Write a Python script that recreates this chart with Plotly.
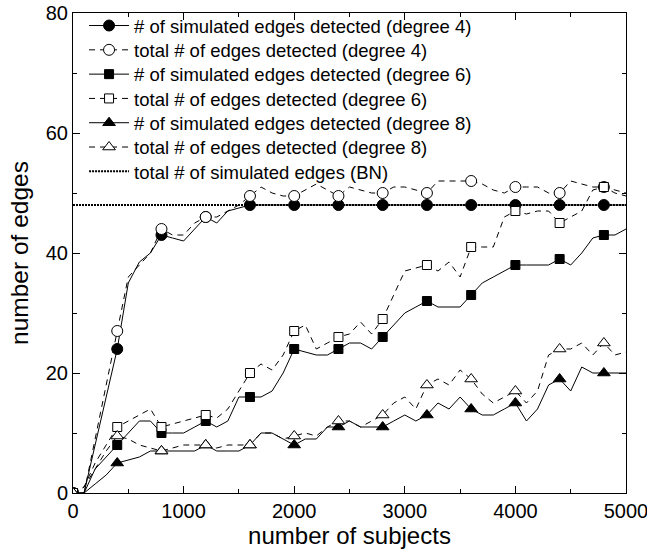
import plotly.graph_objects as go

subjects = list(range(0, 5001, 100))

sim_deg4 = [0, 0, 8, 16, 24, 35, 38.5, 40, 43, 42.5, 42, 44, 46, 45, 47, 47.5, 48,
            48, 48, 48, 48, 48, 48, 48, 48, 48, 48, 48, 48, 48, 48, 48, 48, 48, 48,
            48, 48, 48, 48, 48, 48, 48, 48, 48, 48, 48, 48, 48, 48, 48, 48]
tot_deg4 = [0, 0, 9, 18, 27, 36, 38, 40, 44, 43, 43, 45, 46, 46, 47, 48, 49.5,
            51, 50, 49.5, 49.5, 50.5, 51.5, 50.5, 49.5, 51, 50.5, 50, 50, 51, 51,
            50.5, 50, 52, 52, 52, 52, 51.5, 50.5, 50, 51, 51, 51, 50, 50, 52, 51.5,
            51, 51, 50.5, 50]
sim_deg6 = [0, 0, 4, 6, 8, 10, 12, 12, 10, 10, 10, 11, 12, 11, 12, 16, 16,
            16, 17, 20, 24, 23.5, 23, 23, 24, 25, 25, 24, 26, 28, 30, 31, 32, 31,
            31, 31, 33, 35, 36, 37, 38, 38, 38, 38, 39, 38, 40, 42.5, 43, 43, 44]
tot_deg6 = [0, 1, 5, 8, 11, 12, 13, 14, 11, 11.5, 12, 12.5, 13, 12.5, 14, 17, 20,
            21.5, 20.5, 23, 27, 28, 24, 25, 26, 26.5, 28.5, 26.5, 29, 33, 37, 37.5,
            38, 37, 38.5, 36, 41, 41, 41, 46, 47, 46.5, 47, 47, 45, 46, 47, 50.5,
            51, 50, 49.5]
sim_deg8 = [0, 0, 1.5, 3, 5, 5.5, 6, 7, 7, 7, 7, 7, 8, 7, 7, 7, 8, 10, 10, 9, 8,
            9, 9, 11, 11, 12, 11, 11, 11, 12, 13, 12, 13, 15, 14, 16, 14, 13, 13,
            14, 15, 12, 14, 18, 19, 17, 21, 20, 20, 20, 20]
tot_deg8 = [0, 1, 4, 7, 9.5, 9, 8, 7.5, 7, 7.5, 8, 8, 8, 7.5, 8, 8, 8, 10, 10, 9,
            9.5, 10, 9.5, 11, 12, 12, 11, 12, 13, 15, 16, 14, 18, 19, 18, 20.5, 19,
            16.5, 15, 16, 17, 15, 17, 23, 24, 24, 25, 23, 25, 23, 23.5]
bn_total = [48] * len(subjects)

names = ["# of simulated edges detected (degree 4)",
         "total # of edges detected (degree 4)",
         "# of simulated edges detected (degree 6)",
         "total # of edges detected (degree 6)",
         "# of simulated edges detected (degree 8)",
         "total # of edges detected (degree 8)",
         "total # of simulated edges (BN)"]

series = [sim_deg4, tot_deg4, sim_deg6, tot_deg6, sim_deg8, tot_deg8]
symbols = ["circle", "circle", "square", "square", "triangle-up", "triangle-up"]
filled = [True, False, True, False, True, False]
sizes = [11, 11, 9, 9, 11, 11]
DASH = "6px,5px"
BN_DASH = "2px,1px"

fig = go.Figure()

# BN reference line
fig.add_trace(go.Scatter(x=subjects, y=bn_total, mode="lines",
                         line=dict(color="black", width=2, dash=BN_DASH),
                         showlegend=False, hoverinfo="skip"))

for i, ys in enumerate(series):
    dash = "solid" if filled[i] else DASH
    fig.add_trace(go.Scatter(x=subjects, y=ys, mode="lines",
                             line=dict(color="black", width=1, dash=dash),
                             showlegend=False, hoverinfo="skip"))

for i, ys in enumerate(series):
    mk = dict(symbol=symbols[i], size=sizes[i],
              color="black" if filled[i] else "white",
              line=dict(color="black", width=1))
    fig.add_trace(go.Scatter(x=subjects[::4], y=ys[::4], mode="markers",
                             marker=mk, showlegend=False))

# legend-only entries, one legend box per row for exact row spacing
legend_ids = ["legend"] + ["legend%d" % k for k in range(2, 8)]
for i in range(6):
    dash = "solid" if filled[i] else DASH
    mk = dict(symbol=symbols[i], size=sizes[i],
              color="black" if filled[i] else "white",
              line=dict(color="black", width=1))
    fig.add_trace(go.Scatter(x=[None], y=[None], mode="lines+markers",
                             name=names[i], marker=mk, legend=legend_ids[i],
                             line=dict(color="black", width=1, dash=dash)))
fig.add_trace(go.Scatter(x=[None], y=[None], mode="lines", name=names[6],
                         legend=legend_ids[6],
                         line=dict(color="black", width=2, dash=BN_DASH)))

axis_common = dict(showline=True, mirror="allticks", linecolor="black", linewidth=1,
                   ticks="inside", ticklen=7, tickcolor="black", showgrid=False,
                   zeroline=False, tickfont=dict(size=20, color="black"),
                   ticklabeloverflow="allow", automargin=False,
                   minor=dict(ticks="inside", ticklen=4, tickcolor="black"))

PLOT_TOP, PLOT_H = 13, 480
row_px = [26 + 24.3 * k for k in range(7)]
legends = {}
for lid, py in zip(legend_ids, row_px):
    legends[lid] = dict(x=0.02, y=(PLOT_TOP + PLOT_H - py) / PLOT_H,
                        xanchor="left", yanchor="middle",
                        font=dict(size=18.5, color="black"),
                        bgcolor="rgba(0,0,0,0)", itemwidth=40)

fig.update_layout(
    width=647, height=552,
    margin=dict(l=73, r=21, t=PLOT_TOP, b=59, autoexpand=False),
    paper_bgcolor="white", plot_bgcolor="white",
    font=dict(family="Liberation Sans, Arial, sans-serif", color="black"),
    xaxis=dict(range=[0, 5000], tickvals=[0, 1000, 2000, 3000, 4000, 5000],
               title=dict(text="number of subjects", font=dict(size=24), standoff=2),
               **axis_common),
    yaxis=dict(range=[0, 80], tickvals=[0, 20, 40, 60, 80],
               title=dict(text="number of edges", font=dict(size=24.5), standoff=10),
               **axis_common),
    **legends,
)
fig.update_xaxes(minor=dict(tickvals=[500, 1500, 2500, 3500, 4500]))
fig.update_yaxes(minor=dict(tickvals=[10, 30, 50, 70]))

fig.write_html("out.html")
